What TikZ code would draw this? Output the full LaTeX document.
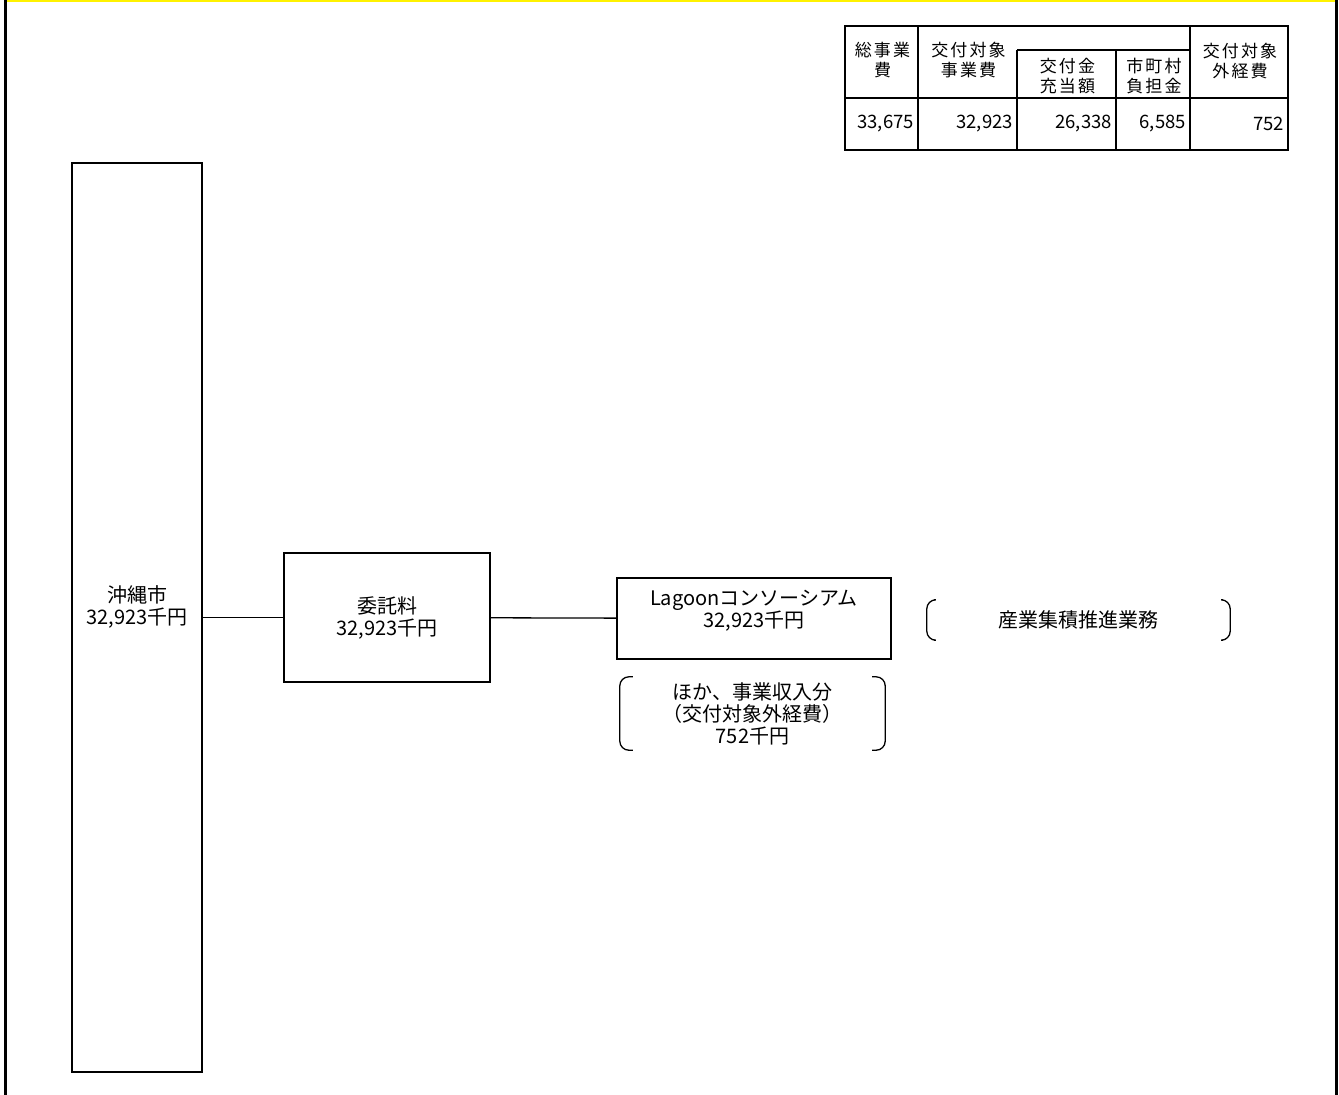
\documentclass[tikz,border=0pt]{standalone}
\usepackage{fontspec}
\setmainfont{Noto Sans CJK JP}
\begin{document}
\begin{tikzpicture}[x=1pt,y=-1pt,
  box/.style={draw=black,line width=1.3pt,inner sep=0pt,align=center,font=\fontsize{20}{22}\selectfont},
  note/.style={inner sep=0pt,align=center,font=\fontsize{20}{22}\selectfont},
  cell/.style={inner sep=0pt,align=center,font=\fontsize{17}{20.5}\selectfont\addfontfeature{LetterSpace=12}},
  num/.style={inner sep=0pt,anchor=east,font=\fontsize{18.5}{20}\selectfont},
  rule/.style={black,line width=1.8pt},
  bracket/.style={black,line width=1.3pt,rounded corners=9pt}]
\useasboundingbox (0,0) rectangle (1339,1095);
% frame
\draw [black,line width=3.5pt] (5.5,0) -- (5.5,1095);
\draw [black,line width=3.5pt] (1336.5,0) -- (1336.5,1095);
\draw [yellow,line width=2.5pt] (7,1.2) -- (1335,1.2);
% table
\draw [rule] (845,26) rectangle (1288,150);
\draw [rule] (845,98) -- (1288,98);
\draw [rule] (918,26) -- (918,150);
\draw [rule] (1190,26) -- (1190,150);
\draw [rule] (1017,50) -- (1190,50);
\draw [rule] (1017,50) -- (1017,150);
\draw [rule] (1116,50) -- (1116,150);
\node [cell] (total) at (882.5,60) {総事業\\費};
\node [cell] (target) at (968.5,60) {交付対象\\事業費};
\node [cell] (grant) at (1067.5,76) {交付金\\充当額};
\node [cell] (share) at (1154,76) {市町村\\負担金};
\node [cell] (other) at (1240,61) {交付対象\\外経費};
\node [num] (totalv) at (914,124) {33,675};
\node [num] (targetv) at (1013,124) {32,923};
\node [num] (grantv) at (1112,124) {26,338};
\node [num] (sharev) at (1186,124) {6,585};
\node [num] (otherv) at (1284,124) {752};
% flow
\node [box,minimum width=130,minimum height=909,text height=24pt,text depth=10pt] (city) at (137,617.5) {沖縄市\\32,923千円};
\node [box,minimum width=206,minimum height=129] (fee) at (387,617.5) {委託料\\32,923千円};
\node [box,minimum width=274,minimum height=81,text height=24pt,text depth=6pt] (lagoon) at (754,618.5) {Lagoonコンソーシアム\\32,923千円};
\draw [black,line width=1.3pt] (city) -- (fee);
\draw [black,line width=1.3pt] (fee) -- (lagoon);
% notes
\node [note,minimum width=265,minimum height=73] (extra) at (752.5,713.5) {ほか、事業収入分\\（交付対象外経費）\\752千円};
\draw [bracket] ([xshift=13pt]extra.north west) -- (extra.north west) -- (extra.south west) -- ([xshift=13pt]extra.south west);
\draw [bracket] ([xshift=-13pt]extra.north east) -- (extra.north east) -- (extra.south east) -- ([xshift=-13pt]extra.south east);
\node [note,minimum width=303,minimum height=40] (work) at (1078.5,620) {産業集積推進業務};
\draw [bracket] ([xshift=7pt]work.north west) -- (work.north west) -- (work.south west) -- ([xshift=7pt]work.south west);
\draw [bracket] ([xshift=-7pt]work.north east) -- (work.north east) -- (work.south east) -- ([xshift=-7pt]work.south east);
\end{tikzpicture}
\end{document}
